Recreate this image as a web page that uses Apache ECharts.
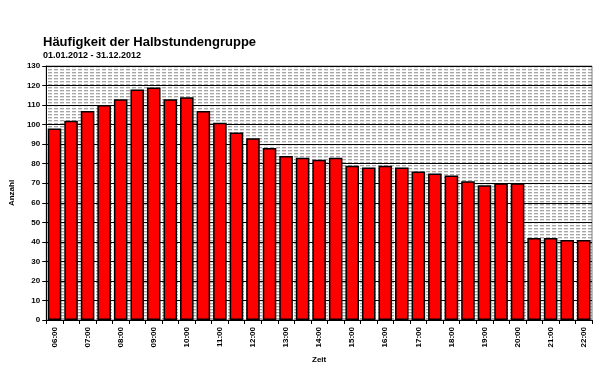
<!DOCTYPE html>
<html><head><meta charset="utf-8">
<script src="https://cdn.jsdelivr.net/npm/echarts@6/dist/echarts.min.js"></script>
<style>html,body{margin:0;padding:0;background:#fff}#c{width:602px;height:374px}</style>
</head><body><div id="c"></div>
<script>
const categories = ['06:00','06:30','07:00','07:30','08:00','08:30','09:00','09:30','10:00','10:30','11:00','11:30','12:00','12:30','13:00','13:30','14:00','14:30','15:00','15:30','16:00','16:30','17:00','17:30','18:00','18:30','19:00','19:30','20:00','20:30','21:00','21:30','22:00'];
const counts = [98,102,107,110,113,118,119,113,114,107,101,96,93,88,84,83,82,83,79,78,79,78,76,75,74,71,69,70,70,42,42,41,41];
const titleText = 'Häufigkeit der Halbstundengruppe';
const subtitleText = '01.01.2012 - 31.12.2012';

const pc = document.createElement('canvas');
pc.width = 6; pc.height = 3;
const g = pc.getContext('2d');
g.fillStyle = '#ffffff'; g.fillRect(0,0,6,3);
g.fillStyle = '#a6a6a6'; g.fillRect(0,0,4,1);
g.fillStyle = '#e0e0e0'; g.fillRect(0,1,4,1);

const chart = echarts.init(document.getElementById('c'), null, {renderer:'canvas'});
const F = 'Liberation Sans, Arial, sans-serif';
chart.setOption({
  animation:false,
  backgroundColor:'#fff',
  title:[
    {text:titleText, left:38, top:31, textStyle:{fontFamily:F, fontSize:13, fontWeight:'bold', color:'#000'}},
    {text:subtitleText, left:38, top:46, textStyle:{fontFamily:F, fontSize:9, fontWeight:'bold', color:'#000'}}
  ],
  grid:{left:45, right:10, top:66, bottom:54, show:true, backgroundColor:{image:pc, repeat:'repeat'}, borderColor:'#808080', borderWidth:1},
  xAxis:{type:'category', data:categories, name:'Zeit', nameLocation:'middle', nameGap:33,
    nameTextStyle:{fontFamily:F, fontSize:8, fontWeight:'bold', color:'#000'},
    axisLine:{lineStyle:{color:'#000', width:1}},
    axisTick:{show:true, interval:0, length:4, lineStyle:{color:'#000'}},
    axisLabel:{interval:1, rotate:90, margin:7, fontFamily:F, fontSize:8, fontWeight:'bold', color:'#000'}
  },
  yAxis:{type:'value', min:0, max:130, interval:10, name:'Anzahl', nameLocation:'middle', nameGap:26,
    nameTextStyle:{fontFamily:F, fontSize:8, fontWeight:'bold', color:'#000'},
    axisLine:{show:true, lineStyle:{color:'#000', width:1}},
    axisTick:{show:true, length:4, lineStyle:{color:'#000'}},
    axisLabel:{margin:6, fontFamily:F, fontSize:8, fontWeight:'bold', color:'#000'},
    splitLine:{show:true, lineStyle:{color:'#000', width:1}}
  },
  series:[{type:'bar', data:counts, barCategoryGap:'18%',
    itemStyle:{color:'#ff0000', borderColor:'#000', borderWidth:1.5}}]
});
</script></body></html>
